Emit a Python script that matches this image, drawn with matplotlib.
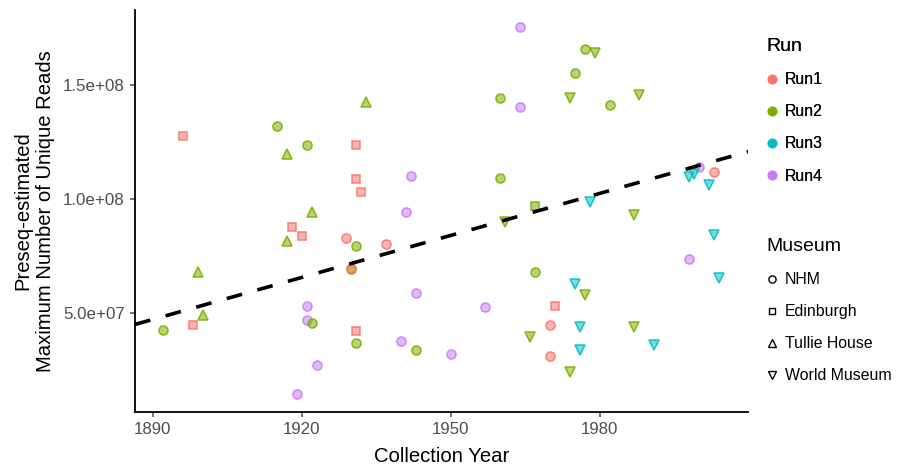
import matplotlib.pyplot as plt
from matplotlib.lines import Line2D

plt.rcParams['font.family'] = ['Liberation Sans', 'DejaVu Sans']

# Samples: collection year, preseq estimate, sequencing run, museum
years = [1896, 1915, 1921, 1917, 1933, 1931, 1931, 1932, 1942,
         1964, 1977, 1979, 1975, 1960, 1964, 1974, 1982, 1988, 1960,
         2000, 2003, 1998, 1999, 2002, 1978, 1967,
         1961, 1987, 2003, 1998, 2004, 1967, 1975, 1977, 1957, 1971,
         1970, 1976, 1987, 1966, 1991, 1976, 1970, 1950, 1974,
         1922, 1941, 1918, 1920, 1917, 1929, 1931, 1937, 1930, 1930,
         1899, 1943, 1900, 1921, 1921, 1922, 1898, 1892, 1931, 1931,
         1940, 1943, 1923, 1919]
reads = [1.277e8, 1.321e8, 1.238e8, 1.199e8, 1.424e8, 1.238e8, 1.088e8, 1.028e8, 1.101e8,
         1.753e8, 1.659e8, 1.640e8, 1.553e8, 1.444e8, 1.405e8, 1.441e8, 1.412e8, 1.456e8, 1.091e8,
         1.140e8, 1.118e8, 1.098e8, 1.110e8, 1.059e8, 0.988e8, 0.968e8,
         0.900e8, 0.929e8, 0.841e8, 0.735e8, 0.654e8, 0.678e8, 0.625e8, 0.578e8, 0.525e8, 0.529e8,
         0.448e8, 0.436e8, 0.436e8, 0.394e8, 0.357e8, 0.338e8, 0.310e8, 0.317e8, 0.238e8,
         0.944e8, 0.944e8, 0.876e8, 0.837e8, 0.813e8, 0.829e8, 0.791e8, 0.803e8, 0.694e8, 0.697e8,
         0.677e8, 0.588e8, 0.489e8, 0.529e8, 0.467e8, 0.454e8, 0.444e8, 0.423e8, 0.419e8, 0.366e8,
         0.376e8, 0.337e8, 0.270e8, 0.141e8]
runs = ['Run1', 'Run2', 'Run2', 'Run2', 'Run2', 'Run1', 'Run1', 'Run1', 'Run4',
        'Run4', 'Run2', 'Run2', 'Run2', 'Run2', 'Run4', 'Run2', 'Run2', 'Run2', 'Run2',
        'Run4', 'Run1', 'Run3', 'Run3', 'Run3', 'Run3', 'Run2',
        'Run2', 'Run2', 'Run3', 'Run4', 'Run3', 'Run2', 'Run3', 'Run2', 'Run4', 'Run1',
        'Run1', 'Run3', 'Run2', 'Run2', 'Run3', 'Run3', 'Run1', 'Run4', 'Run2',
        'Run2', 'Run4', 'Run1', 'Run1', 'Run2', 'Run1', 'Run2', 'Run1', 'Run2', 'Run1',
        'Run2', 'Run4', 'Run2', 'Run4', 'Run4', 'Run2', 'Run1', 'Run2', 'Run1', 'Run2',
        'Run4', 'Run2', 'Run4', 'Run4']
museums = ['Edinburgh', 'NHM', 'NHM', 'Tullie House', 'Tullie House', 'Edinburgh', 'Edinburgh', 'Edinburgh', 'NHM',
           'NHM', 'NHM', 'World Museum', 'NHM', 'NHM', 'NHM', 'World Museum', 'NHM', 'World Museum', 'NHM',
           'NHM', 'NHM', 'World Museum', 'World Museum', 'World Museum', 'World Museum', 'Edinburgh',
           'World Museum', 'World Museum', 'World Museum', 'NHM', 'World Museum', 'NHM', 'World Museum', 'World Museum', 'NHM', 'Edinburgh',
           'NHM', 'World Museum', 'World Museum', 'World Museum', 'World Museum', 'World Museum', 'NHM', 'NHM', 'World Museum',
           'Tullie House', 'NHM', 'Edinburgh', 'Edinburgh', 'Tullie House', 'NHM', 'NHM', 'NHM', 'NHM', 'NHM',
           'Tullie House', 'NHM', 'Tullie House', 'NHM', 'NHM', 'NHM', 'Edinburgh', 'NHM', 'Edinburgh', 'NHM',
           'NHM', 'NHM', 'NHM', 'NHM']

# linear trend (reads = intercept + slope * (year - 1900))
trend_intercept = 5.32e7
trend_slope = 6.146e5

run_colors = {'Run1': '#F8766D', 'Run2': '#7CAE00', 'Run3': '#00BFC4', 'Run4': '#C77CFF'}
museum_markers = {'NHM': 'o', 'Edinburgh': 's', 'Tullie House': '^', 'World Museum': 'v'}
marker_sizes = {'o': 6.5, 's': 5.6, '^': 7.6, 'v': 7.6}

fig = plt.figure(figsize=(8.97, 4.68), dpi=100)
ax = fig.add_axes([0.1505, 0.1197, 0.6835, 0.8593])

for yr, rd, run, mus in zip(years, reads, runs, museums):
    m = museum_markers[mus]
    c = run_colors[run]
    ax.plot(yr, rd, marker=m, linestyle='none', markersize=marker_sizes[m],
            markerfacecolor=c + '88', markeredgecolor=c + 'E6', markeredgewidth=1.1)

ax.axline((1900, trend_intercept), slope=trend_slope, color='black', lw=2.6,
          linestyle=(0, (4.4, 4.4)))

ax.set_xlim(1886.4, 2009.9)
ax.set_ylim(0.64e7, 1.83e8)
ax.set_xticks([1890, 1920, 1950, 1980])
ax.set_yticks([5e7, 1e8, 1.5e8])
ax.set_yticklabels(['5.0e+07', '1.0e+08', '1.5e+08'])
ax.tick_params(colors='#4D4D4D', labelsize=12.2, length=3.8, width=1.1, pad=3.5)
for s in ['top', 'right']:
    ax.spines[s].set_visible(False)
for s in ['left', 'bottom']:
    ax.spines[s].set_linewidth(1.3)
ax.set_xlabel('Collection Year', fontsize=14.6, labelpad=7)
ax.set_ylabel('Preseq-estimated\nMaximum Number of Unique Reads', fontsize=14.6,
              labelpad=6, linespacing=1.2)

legend_kw = dict(loc='upper left', frameon=False, fontsize=11.4, title_fontsize=14,
                 labelspacing=1.08, handletextpad=0.55, handlelength=0.6,
                 borderpad=0.4, alignment='left')
run_handles = [Line2D([], [], marker='o', linestyle='none', markersize=6,
                      markerfacecolor=run_colors[r], markeredgecolor=run_colors[r])
               for r in run_colors]
leg1 = fig.legend(run_handles, list(run_colors), title='Run',
                  bbox_to_anchor=(0.839, 0.949), **legend_kw)
fig.add_artist(leg1)
mus_handles = [Line2D([], [], marker=museum_markers[k], linestyle='none',
                      markersize=5.2 if k != 'Edinburgh' else 4.4,
                      markerfacecolor='none', markeredgecolor='black', markeredgewidth=1.0)
               for k in museum_markers]
fig.legend(mus_handles, list(museum_markers), title='Museum',
           bbox_to_anchor=(0.839, 0.522), **legend_kw)

fig.savefig('out.png', dpi=100)
